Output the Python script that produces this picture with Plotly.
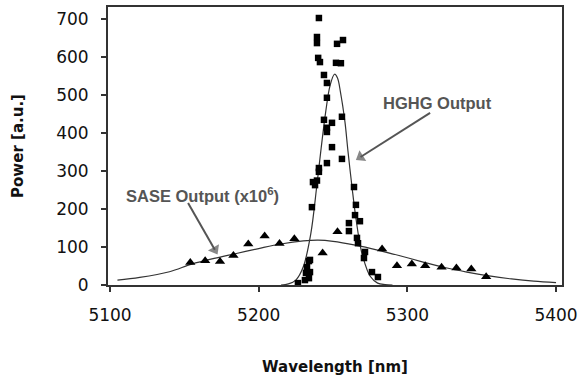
import plotly.graph_objects as go

# HGHG measured points (squares)
hghg_wl = [5240.5, 5239.2, 5239.2, 5240.0, 5241.2, 5252.7, 5256.7, 5252.0, 5255.3,
           5243.9, 5245.9, 5245.9, 5243.9, 5249.3, 5256.0, 5245.9, 5245.9, 5249.3,
           5256.0, 5245.9, 5240.5, 5240.5, 5236.5, 5237.9, 5239.2, 5264.1, 5235.8,
           5265.4, 5264.8, 5260.7, 5260.7, 5268.1, 5266.1, 5266.8, 5271.5, 5270.8,
           5276.2, 5280.2, 5234.5, 5233.8, 5232.5, 5234.5, 5231.8, 5233.8, 5231.1, 5226.4]
hghg_pw = [703, 653, 637, 598, 587, 635, 645, 585, 584,
           553, 532, 493, 435, 427, 443, 414, 403, 363,
           332, 321, 308, 298, 271, 263, 275, 258, 205,
           211, 184, 163, 142, 168, 124, 110, 87, 71,
           34, 21, 66, 63, 47, 34, 32, 18, 13, 5]

# SASE measured points (triangles)
sase_wl = [5154, 5164, 5174, 5183, 5193, 5204, 5214, 5224, 5243, 5253,
           5283, 5293, 5303, 5312, 5323, 5333, 5343, 5353]
sase_pw = [59, 64, 62, 78, 108, 129, 109, 122, 84, 140,
           95, 51, 55, 51, 47, 45, 42, 22]

# Fitted curves
hghg_fit_wl = [5215, 5220, 5225, 5230, 5235, 5239, 5242, 5245, 5248, 5251, 5253,
               5255, 5258, 5260, 5263, 5265, 5268, 5270, 5275, 5280, 5285, 5290]
hghg_fit_pw = [0, 3, 13, 48, 134, 258, 360, 454, 525, 555, 545,
               508, 430, 354, 250, 187, 110, 75, 23, 5, 1, 0]

sase_fit_wl = [5105, 5120, 5140, 5155, 5170, 5185, 5200, 5215, 5230, 5240, 5250,
               5265, 5280, 5295, 5310, 5325, 5340, 5355, 5370, 5385, 5400]
sase_fit_pw = [13, 20, 35, 55, 70, 83, 96, 108, 116, 118, 115,
               105, 92, 77, 61, 46, 34, 24, 16, 10, 6]

x_ticks = [5100, 5200, 5300, 5400]
y_ticks = [0, 100, 200, 300, 400, 500, 600, 700]

# Annotation arrows: tail -> tip
hghg_arrow_wl = [5315.3, 5268.5]
hghg_arrow_pw = [453, 337]
sase_arrow_wl = [5152.5, 5170.5]
sase_arrow_pw = [216, 93]

fig = go.Figure()
fig.add_trace(go.Scatter(x=sase_fit_wl, y=sase_fit_pw, mode="lines",
                         line=dict(color="#333", width=1.2, shape="spline"), cliponaxis=False))
fig.add_trace(go.Scatter(x=hghg_fit_wl, y=hghg_fit_pw, mode="lines",
                         line=dict(color="#333", width=1.2, shape="spline"), cliponaxis=False))
fig.add_trace(go.Scatter(x=sase_wl, y=sase_pw, mode="markers",
                         marker=dict(symbol="triangle-up", size=9, color="black"), cliponaxis=False))
fig.add_trace(go.Scatter(x=hghg_wl, y=hghg_pw, mode="markers",
                         marker=dict(symbol="square", size=6.5, color="black"), cliponaxis=False))
for awl, apw in [(hghg_arrow_wl, hghg_arrow_pw), (sase_arrow_wl, sase_arrow_pw)]:
    fig.add_trace(go.Scatter(x=awl, y=apw, mode="lines+markers",
                             line=dict(color="#555", width=2),
                             marker=dict(symbol=["circle", "triangle-up"], size=[0, 11], color="#555",
                                         angleref="previous", line=dict(width=0)),
                             cliponaxis=False))

tick_font = dict(family="DejaVu Sans", size=17, color="#111")
title_font = dict(family="DejaVu Sans", size=15, color="#111", weight="bold")
note_font = dict(family="Liberation Sans, Arial, sans-serif", size=16.5, color="#555", weight="bold")

fig.update_layout(
    width=584, height=380,
    margin=dict(l=108, r=22, t=7, b=95),
    paper_bgcolor="white", plot_bgcolor="white",
    showlegend=False,
    xaxis=dict(range=[5098.65, 5404], tickvals=x_ticks, ticks="outside", ticklen=5, tickwidth=1.5,
               tickcolor="#333", showline=True, linewidth=2, linecolor="#333", mirror=True,
               showgrid=False, zeroline=False, tickfont=tick_font, ticklabelstandoff=9,
               title=dict(text="Wavelength [nm]", font=title_font, standoff=37), automargin=False),
    yaxis=dict(range=[0, 732], tickvals=y_ticks, ticks="outside", ticklen=5, tickwidth=1.5,
               tickcolor="#333", showline=True, linewidth=2, linecolor="#333", mirror=True,
               showgrid=False, zeroline=False, tickfont=tick_font, ticklabelstandoff=9,
               title=dict(text="Power [a.u.]", font=title_font, standoff=29), automargin=False),
    annotations=[
        dict(text="HGHG Output", x=5320, y=479, xref="x", yref="y", showarrow=False, font=note_font,
             xanchor="center", yanchor="middle"),
        dict(text="SASE Output (x10<sup>6</sup>)", x=5162.5, y=237, xref="x", yref="y", showarrow=False,
             font=note_font, xanchor="center", yanchor="middle"),
    ],
)

fig.write_html("out.html")
